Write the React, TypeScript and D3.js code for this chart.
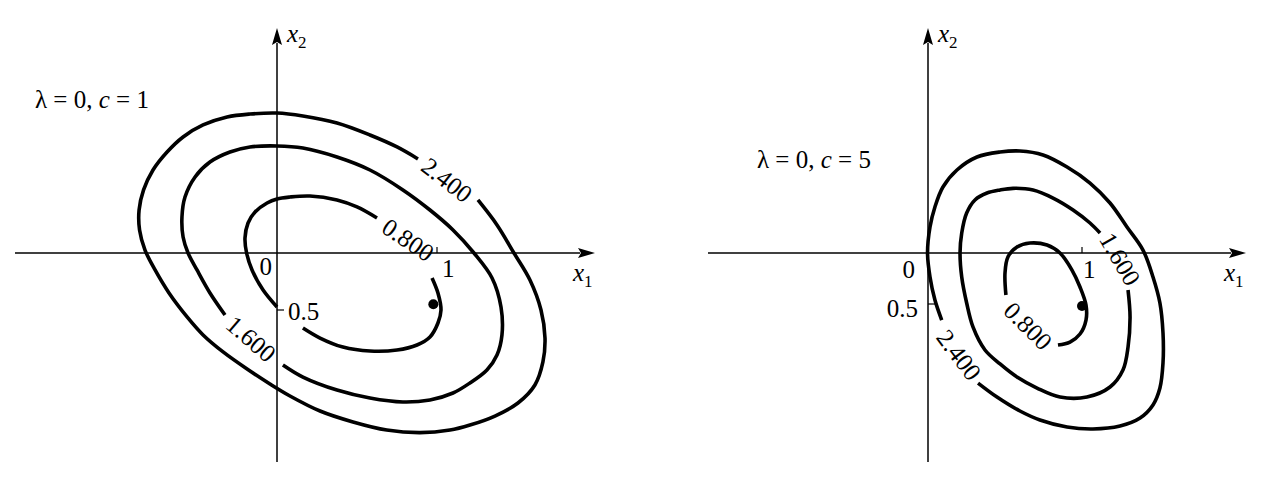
import React from 'react';
import * as d3 from 'd3';

type Pt = [number, number];

// ---------- Data (in x1, x2 units) ----------
// Left panel: lambda = 0, c = 1
const leftOuter: Pt[] = [
  [1.256, 0.465], [1.375, 0.246], [1.481, 0], [1.581, -0.237], [1.65, -0.5], [1.675, -0.746],
  [1.662, -0.956], [1.612, -1.158], [1.506, -1.316], [1.362, -1.43], [1.206, -1.509], [1.081, -1.553],
  [0.894, -1.576], [0.686, -1.553], [0.475, -1.482], [0.269, -1.386], [0.081, -1.254], [-0.044, -1.149],
  [-0.187, -1.018], [-0.337, -0.868], [-0.462, -0.719], [-0.562, -0.561], [-0.675, -0.351], [-0.762, -0.149],
  [-0.825, 0.026], [-0.859, 0.202], [-0.862, 0.377], [-0.834, 0.553], [-0.775, 0.728], [-0.687, 0.886],
  [-0.587, 1.018], [-0.462, 1.123], [-0.312, 1.193], [-0.169, 1.219], [0, 1.228], [0.162, 1.202],
  [0.375, 1.14], [0.581, 1.035], [0.75, 0.93], [0.881, 0.825],
];
const leftMiddle: Pt[] = [
  [0.037, -0.982], [0.162, -1.088], [0.375, -1.202], [0.581, -1.272], [0.787, -1.307], [0.956, -1.289],
  [1.1, -1.228], [1.206, -1.14], [1.312, -1.026], [1.375, -0.895], [1.406, -0.719], [1.4, -0.474],
  [1.344, -0.219], [1.231, 0], [1.1, 0.202], [0.956, 0.377], [0.787, 0.553], [0.581, 0.728],
  [0.375, 0.842], [0.162, 0.921], [0, 0.939], [-0.169, 0.93], [-0.294, 0.886], [-0.419, 0.798],
  [-0.512, 0.667], [-0.575, 0.491], [-0.594, 0.316], [-0.587, 0.14], [-0.556, 0], [-0.5, -0.149],
  [-0.419, -0.351], [-0.325, -0.544],
];
const leftInnerA: Pt[] = [
  [0.625, 0.307], [0.5, 0.404], [0.375, 0.465], [0.206, 0.5], [0.081, 0.491], [0, 0.474],
  [-0.062, 0.439], [-0.137, 0.36], [-0.181, 0.263], [-0.2, 0.132], [-0.19, 0], [-0.156, -0.149],
  [-0.087, -0.325], [0, -0.474],
];
const leftInnerB: Pt[] = [
  [0.162, -0.658], [0.269, -0.746], [0.412, -0.825], [0.581, -0.86], [0.75, -0.851], [0.875, -0.807],
  [0.956, -0.737], [1.006, -0.614], [1.025, -0.5], [1.006, -0.351], [0.969, -0.219],
];
const leftLabels = [
  { text: '2.400', x: 1.062, y: 0.64, angle: 38 },
  { text: '0.800', x: 0.819, y: 0.114, angle: 34 },
  { text: '1.600', x: -0.162, y: -0.754, angle: 41 },
];
const leftDot: Pt = [0.977, -0.45];

// Right panel: lambda = 0, c = 5
const rightOuter: Pt[] = [
  [0.325, -1.275], [0.448, -1.412], [0.597, -1.549], [0.727, -1.637], [0.903, -1.706], [1.071, -1.725],
  [1.247, -1.696], [1.377, -1.618], [1.461, -1.49], [1.506, -1.324], [1.526, -1.078], [1.526, -0.784],
  [1.506, -0.49], [1.461, -0.235], [1.396, 0.029], [1.292, 0.255], [1.182, 0.49], [1.052, 0.686],
  [0.903, 0.843], [0.747, 0.961], [0.597, 1.0], [0.468, 0.99], [0.318, 0.941], [0.188, 0.814],
  [0.097, 0.647], [0.045, 0.451], [0.013, 0.255], [-0.003, 0], [0.013, -0.235], [0.045, -0.461],
  [0.089, -0.657],
];
const rightMiddle: Pt[] = [
  [1.299, -0.363], [1.312, -0.627], [1.299, -0.922], [1.266, -1.147], [1.182, -1.314], [1.032, -1.412],
  [0.857, -1.412], [0.708, -1.324], [0.578, -1.216], [0.468, -1.088], [0.37, -0.951], [0.292, -0.725],
  [0.251, -0.49], [0.219, -0.235], [0.208, 0], [0.219, 0.196], [0.251, 0.392], [0.305, 0.52],
  [0.383, 0.588], [0.468, 0.618], [0.552, 0.634], [0.682, 0.618], [0.812, 0.539], [0.942, 0.422],
  [1.052, 0.294], [1.117, 0.196],
];
const rightInner: Pt[] = [
  [0.506, -0.412], [0.5, -0.196], [0.519, -0.039], [0.578, 0.059], [0.662, 0.098], [0.773, 0.078],
  [0.857, 0], [0.935, -0.167], [0.987, -0.333], [1.026, -0.51], [1.026, -0.657], [0.987, -0.794],
  [0.922, -0.873], [0.844, -0.902],
];
const rightLabels = [
  { text: '0.800', x: 0.649, y: -0.716, angle: 45 },
  { text: '1.600', x: 1.247, y: -0.059, angle: 60 },
  { text: '2.400', x: 0.201, y: -1.0, angle: 53 },
];
const rightDot: Pt = [1.0, -0.52];

const xTickLabels = ['0', '1'];
const yTickLabel = '0.5';

const FONT = "'Liberation Serif', 'Times New Roman', serif";
const FS = 25;

type PanelCfg = {
  xPx: [number, number];
  yPx: [number, number];
  xExtent: [number, number];
  yExtent: [number, number];
  contours: Pt[][];
  labels: { text: string; x: number; y: number; angle: number }[];
  dot: Pt;
  cValue: string;
  titlePos: [number, number];
  zeroOff: [number, number];
  oneOff: [number, number];
  halfOff: [number, number, string];
};

const panels: PanelCfg[] = [
  {
    xPx: [277, 437], yPx: [253, 139],
    xExtent: [-1.6375, 1.9875], yExtent: [-1.833, 1.974],
    contours: [leftOuter, leftMiddle, leftInnerA, leftInnerB],
    labels: leftLabels, dot: leftDot, cValue: '1',
    titlePos: [35, 108],
    zeroOff: [-5, 22], oneOff: [5, 24], halfOff: [11, 10, 'start'],
  },
  {
    xPx: [928, 1082], yPx: [253, 151],
    xExtent: [-1.4286, 2.065], yExtent: [-2.049, 2.206],
    contours: [rightOuter, rightMiddle, rightInner],
    labels: rightLabels, dot: rightDot, cValue: '5',
    titlePos: [757, 168],
    zeroOff: [-13, 25], oneOff: [1, 25], halfOff: [-10, 13, 'end'],
  },
];

function Panel({ p }: { p: PanelCfg }) {
  const x = d3.scaleLinear().domain([0, 1]).range(p.xPx);
  const y = d3.scaleLinear().domain([0, 1]).range(p.yPx);
  const line = d3.line<Pt>().x((d) => x(d[0])).y((d) => y(d[1])).curve(d3.curveCatmullRom.alpha(0.5));
  const x0 = x(0), y0 = y(0);
  const xa = x(p.xExtent[0]), xb = x(p.xExtent[1]);
  const ya = y(p.yExtent[0]), yb = y(p.yExtent[1]);
  const AL = 17, AW = 5;
  return (
    <g>
      <line x1={xa} y1={y0} x2={xb - AL + 2} y2={y0} stroke="#000" strokeWidth={1.5} />
      <polygon points={`${xb},${y0} ${xb - AL},${y0 - AW} ${xb - AL + 3},${y0} ${xb - AL},${y0 + AW}`} fill="#000" />
      <line x1={x0} y1={ya} x2={x0} y2={yb + AL - 2} stroke="#000" strokeWidth={1.5} />
      <polygon points={`${x0},${yb} ${x0 - AW},${yb + AL} ${x0},${yb + AL - 3} ${x0 + AW},${yb + AL}`} fill="#000" />
      <line x1={x(1)} y1={y0} x2={x(1)} y2={y0 - 6} stroke="#000" strokeWidth={1.2} />
      <line x1={x0} y1={y(-0.5)} x2={x0 + 7} y2={y(-0.5)} stroke="#000" strokeWidth={1.2} />
      <g fontFamily={FONT} fontSize={FS} fill="#000">
        <text x={x0 + p.zeroOff[0]} y={y0 + p.zeroOff[1]} textAnchor="end">{xTickLabels[0]}</text>
        <text x={x(1) + p.oneOff[0]} y={y0 + p.oneOff[1]}>{xTickLabels[1]}</text>
        <text x={x0 + p.halfOff[0]} y={y(-0.5) + p.halfOff[1]} textAnchor={p.halfOff[2] as any}>{yTickLabel}</text>
        <text x={x0 + 10} y={yb + 14} fontStyle="italic">x<tspan fontStyle="normal" fontSize={17} dy={6}>2</tspan></text>
        <text x={xb - 22} y={y0 + 28} fontStyle="italic">x<tspan fontStyle="normal" fontSize={17} dy={6}>1</tspan></text>
        <text x={p.titlePos[0]} y={p.titlePos[1]}>
          λ = 0, <tspan fontStyle="italic">c</tspan> = {p.cValue}
        </text>
      </g>
      {p.contours.map((c, i) => (
        <path key={i} d={line(c) || ''} fill="none" stroke="#000" strokeWidth={3.6} strokeLinecap="butt" strokeLinejoin="round" />
      ))}
      {p.labels.map((l, i) => (
        <text key={i} transform={`translate(${x(l.x)},${y(l.y)}) rotate(${l.angle})`} textAnchor="middle"
          dominantBaseline="central" fontFamily={FONT} fontSize={FS}>{l.text}</text>
      ))}
      <circle cx={x(p.dot[0])} cy={y(p.dot[1])} r={5} fill="#000" />
    </g>
  );
}

export default function App() {
  return (
    <svg width={1266} height={479} style={{ position: 'absolute', left: 0, top: 0, background: '#fff' }}>
      <rect width={1266} height={479} fill="#fff" />
      {panels.map((p, i) => <Panel key={i} p={p} />)}
    </svg>
  );
}
